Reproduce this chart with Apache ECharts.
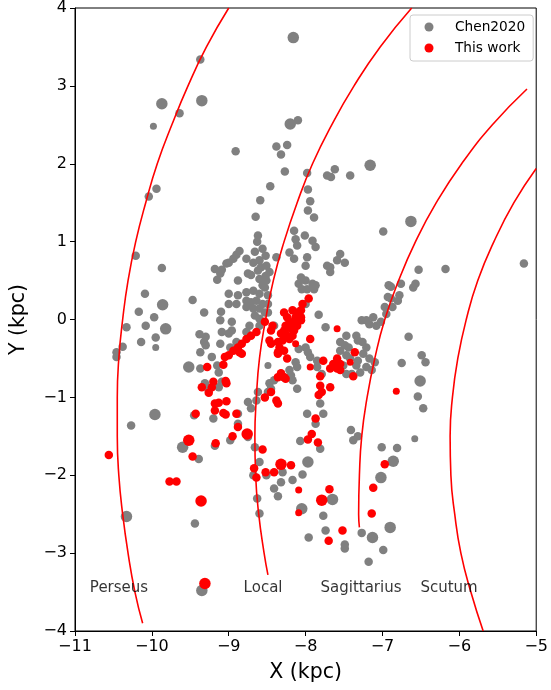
<!DOCTYPE html>
<html>
<head>
<meta charset="utf-8">
<title>Spiral arms near the Sun</title>
<script src="https://cdn.jsdelivr.net/npm/echarts@6/dist/echarts.min.js"></script>
<style>
  html, body { margin: 0; padding: 0; background: #fff; }
  #chart { width: 551px; height: 690px; }
</style>
</head>
<body>
<div id="chart"></div>
<script>
// Galactocentric X, Y in kpc, plus a relative marker-size class (1 small .. 3 large)
const chen2020 = [
  [-9.37,3.34,2],[-9.87,2.77,3],[-9.35,2.81,3],[-9.64,2.65,2],[-9.98,2.48,1],[-9.94,1.68,2],[-10.04,1.58,2],
  [-8.16,3.62,3],[-8.20,2.51,3],[-8.10,2.56,2],[-8.91,2.16,2],[-8.38,2.22,2],[-8.24,2.24,2],[-8.32,2.12,2],
  [-8.27,1.90,2],[-7.98,1.88,2],[-8.46,1.71,2],[-7.72,1.85,2],[-7.67,1.83,2],[-7.62,1.93,2],[-7.42,1.85,2],
  [-7.16,1.98,3],[-8.59,1.53,2],[-7.97,1.67,2],[-7.94,1.52,2],[-7.97,1.40,2],
  [-10.21,0.82,2],[-9.87,0.66,2],[-9.03,0.72,2],[-9.18,0.65,2],[-9.09,0.64,2],[-9.11,0.59,2],[-9.15,0.51,2],
  [-10.09,0.33,2],[-9.86,0.19,3],[-9.47,0.25,2],[-10.17,0.10,2],[-9.97,0.03,2],[-9.00,0.33,2],[-9.00,0.20,2],
  [-9.32,0.09,2],[-9.10,0.10,2],[-9.11,-0.01,2],[-10.33,-0.10,2],[-10.08,-0.08,2],[-9.82,-0.12,3],
  [-9.95,-0.23,2],[-10.14,-0.29,2],[-9.95,-0.36,1],[-10.38,-0.35,2],[-10.46,-0.42,2],[-10.46,-0.48,2],
  [-9.38,-0.19,2],[-9.30,-0.22,2],[-9.32,-0.29,2],[-9.30,-0.33,2],[-9.09,-0.16,2],[-9.11,-0.31,2],
  [-9.00,-0.18,2],[-8.98,-0.36,2],[-9.37,-0.42,2],[-9.22,-0.48,2],[-9.52,-0.61,3],[-9.37,-0.63,2],
  [-9.15,-0.59,2],[-9.13,-0.68,2],[-9.31,-0.82,2],[-9.26,-0.91,2],[-9.13,-0.87,2],[-9.09,-0.80,2],
  [-9.96,-1.22,3],[-9.45,-1.23,2],[-9.20,-1.27,2],
  [-8.65,1.32,2],[-7.89,1.31,2],[-8.15,1.14,2],[-8.62,1.08,2],[-8.63,1.00,2],[-8.01,1.08,2],[-8.13,1.03,2],
  [-8.11,0.95,2],[-7.91,1.01,2],[-7.87,0.93,2],[-8.86,0.88,2],[-8.90,0.83,2],[-8.94,0.78,2],[-8.66,0.87,2],
  [-8.56,0.91,2],[-8.52,0.82,2],[-8.21,0.86,2],[-8.15,0.78,2],[-8.38,0.80,2],[-8.77,0.78,2],[-8.68,0.73,2],
  [-8.60,0.76,2],[-8.58,0.67,2],[-8.62,0.63,2],[-9.00,0.73,2],[-8.51,0.69,2],[-8.47,0.61,2],[-8.52,0.56,2],
  [-8.00,0.69,2],[-7.98,0.80,2],[-7.72,0.69,2],[-7.68,0.67,2],[-8.75,0.59,2],[-8.71,0.57,2],[-8.88,0.50,2],
  [-8.60,0.52,2],[-8.51,0.50,2],[-8.56,0.44,2],[-8.06,0.54,2],[-8.00,0.50,2],[-8.09,0.46,2],[-7.91,0.46,2],
  [-7.87,0.44,2],[-8.05,0.39,2],[-7.98,0.39,2],[-7.89,0.39,2],[-8.88,0.31,2],[-8.90,0.20,2],[-8.77,0.35,2],
  [-8.68,0.37,2],[-8.60,0.33,2],[-8.53,0.41,2],[-8.49,0.31,2],[-8.77,0.24,2],[-8.71,0.22,2],[-8.64,0.24,2],
  [-8.56,0.20,2],[-8.49,0.20,2],[-8.77,0.16,2],[-8.68,0.14,2],[-8.60,0.14,2],[-8.53,0.09,2],[-8.49,0.09,2],
  [-8.66,0.05,2],[-8.60,0.01,2],[-8.00,0.20,2],[-7.83,0.06,2],[-7.74,-0.10,2],[-8.96,-0.03,2],[-8.96,-0.14,2],
  [-8.73,-0.08,2],[-8.77,-0.16,2],[-8.60,-0.08,2],[-8.41,-0.08,2],[-8.90,-0.29,2],
  [-6.99,1.13,2],[-7.55,0.84,2],[-7.49,0.73,2],[-7.59,0.76,2],[-7.68,0.61,2],[-7.47,-0.21,2],[-7.34,-0.21,2],
  [-7.32,-0.27,2],[-7.26,-0.29,2],[-7.21,-0.36,2],[-7.27,-0.01,2],[-7.21,-0.01,2],[-7.17,-0.06,2],
  [-7.12,0.03,2],[-7.08,-0.08,2],[-7.02,-0.03,2],[-6.95,0.07,2],[-6.97,0.16,2],[-6.93,0.29,2],[-6.92,0.44,2],
  [-7.55,-0.29,2],[-7.49,-0.33,2],[-7.44,-0.36,2],[-7.55,-0.40,2],[-7.47,-0.46,2],[-7.42,-0.50,2],
  [-7.25,-0.44,2],[-7.32,-0.53,2],[-7.17,-0.50,2],[-7.10,-0.55,2],[-7.21,-0.61,2],[-7.14,-0.65,2],
  [-7.29,-0.68,2],[-7.94,-0.48,2],[-7.85,-0.53,2],[-8.00,-0.36,2],[-7.97,-0.42,2],[-8.09,-0.38,2],
  [-8.49,-0.59,1],[-8.21,-0.65,2],[-8.13,-0.55,2],[-8.11,-0.61,2],[-7.85,-0.61,2],[-7.79,-0.70,2],
  [-7.51,-0.59,2],[-7.47,-0.70,2],[-7.40,-0.70,2],[-7.34,-0.59,2],[-8.17,-0.78,2],[-8.19,-0.72,2],
  [-8.28,-0.74,2],[-8.32,-0.72,2],[-8.11,-0.89,2],[-8.41,-0.78,2],[-8.47,-0.82,2],[-8.45,-0.89,2],
  [-8.49,-0.93,2],[-8.62,-0.93,2],[-8.64,-1.04,2],[-8.75,-1.06,2],[-8.71,-1.14,2],[-8.88,-1.21,2],
  [-7.81,-1.08,2],[-7.77,-1.21,2],[-7.98,-1.21,2],
  [-6.63,1.26,3],[-5.16,0.72,2],[-6.18,0.65,2],[-6.53,0.64,2],[-6.76,0.46,2],[-6.89,0.42,2],[-6.57,0.46,2],
  [-6.60,0.41,2],[-6.78,0.31,2],[-6.80,0.24,2],[-6.89,0.27,2],[-6.87,0.16,2],[-6.66,-0.22,2],[-6.49,-0.46,2],
  [-6.44,-0.55,2],[-6.75,-0.56,2],[-6.51,-0.79,3],[-6.54,-0.99,2],[-6.47,-1.14,2],
  [-10.27,-1.36,2],[-9.60,-1.64,3],[-9.39,-1.79,2],[-9.18,-1.62,2],[-10.33,-2.53,3],[-9.44,-2.62,2],
  [-9.35,-3.48,3],[-8.98,-1.55,2],
  [-8.88,-1.34,2],[-8.75,-1.51,2],[-8.66,-1.64,2],[-8.60,-1.83,2],[-8.68,-2.00,2],[-8.51,-2.00,2],
  [-8.30,-1.96,2],[-8.32,-2.09,2],[-8.41,-2.17,2],[-8.36,-2.27,2],[-8.17,-2.06,2],[-8.04,-1.99,2],
  [-7.97,-1.83,3],[-8.07,-1.56,2],[-7.81,-1.66,2],[-7.87,-1.34,2],[-8.63,-2.30,2],[-8.60,-2.49,2],
  [-8.05,-2.43,3],[-7.65,-2.31,3],[-7.77,-2.52,2],[-7.74,-2.71,2],[-7.96,-2.80,2],[-7.49,-2.89,2],
  [-7.49,-2.94,2],[-7.41,-1.42,2],[-7.38,-1.55,2],[-7.32,-1.50,2],[-7.27,-2.74,2],[-7.13,-2.80,3],
  [-7.18,-3.11,2],[-7.01,-1.64,2],[-7.02,-2.03,3],[-6.99,-2.96,2],[-6.90,-2.67,3],
  [-6.58,-1.53,1],[-6.81,-1.65,2],[-6.86,-1.82,3]
];

const thisWork = [
  [-9.05,-0.48,2],[-9.00,-0.46,2],[-9.07,-0.58,2],[-9.28,-0.61,2],[-9.35,-0.87,2],[-9.20,-0.80,2],
  [-9.22,-0.87,2],[-9.26,-0.94,2],[-9.04,-0.79,2],[-9.03,-0.82,2],[-9.18,-1.08,2],[-9.13,-1.07,2],
  [-9.03,-1.05,2],[-9.18,-1.17,2],[-9.07,-1.20,2],[-9.04,-1.22,2],[-9.43,-1.21,2],
  [-7.96,0.27,2],[-8.04,0.20,2],[-8.06,0.12,2],[-8.17,0.12,2],[-8.11,0.09,2],[-8.28,0.09,2],[-8.24,0.03,2],
  [-8.13,0.03,2],[-8.06,0.03,2],[-8.21,-0.03,2],[-8.15,-0.03,2],[-8.06,-0.01,2],[-8.11,-0.08,2],
  [-8.26,-0.08,2],[-8.19,-0.12,2],[-8.28,-0.14,2],[-8.15,-0.14,2],[-8.32,-0.18,2],[-8.24,-0.21,2],
  [-8.17,-0.21,2],[-8.30,-0.27,2],[-8.21,-0.25,2],[-8.34,-0.36,2],[-8.28,-0.40,2],[-8.36,-0.42,2],
  [-8.53,-0.03,2],[-8.43,-0.08,2],[-8.45,-0.14,2],[-8.64,-0.16,2],[-8.71,-0.21,2],[-8.77,-0.25,2],
  [-8.83,-0.31,2],[-8.88,-0.36,2],[-8.94,-0.40,2],[-8.47,-0.27,2],[-8.45,-0.31,2],[-8.13,-0.31,1],
  [-7.94,-0.25,2],[-8.86,-0.42,2],
  [-7.59,-0.12,1],[-7.36,-0.42,2],[-7.42,-0.55,1],[-7.59,-0.50,2],[-7.64,-0.57,2],[-7.55,-0.57,2],
  [-7.68,-0.63,2],[-7.59,-0.63,2],[-7.55,-0.65,2],[-7.94,-0.61,1],[-7.77,-0.53,2],[-7.38,-0.73,2],
  [-7.81,-0.73,2],[-8.24,-0.50,2],[-8.36,-0.29,2],[-8.36,-0.44,2],[-8.32,-0.69,2],[-8.36,-0.74,2],
  [-8.28,-0.74,2],[-8.26,-0.76,2],[-7.81,-0.85,2],[-7.79,-0.93,2],[-7.83,-0.97,2],[-7.68,-0.87,2],
  [-8.45,-0.93,2],[-8.53,-1.00,2],[-8.38,-1.04,2],[-8.36,-1.08,2],[-8.90,-1.21,2],[-7.87,-1.27,2],
  [-8.83,-0.44,2],[-6.82,-0.92,1],
  [-10.56,-1.74,2],[-9.52,-1.55,3],[-9.47,-1.76,2],[-9.17,-1.59,2],[-8.95,-1.50,2],[-9.77,-2.08,2],
  [-9.68,-2.08,2],[-9.36,-2.33,3],[-9.31,-3.39,3],
  [-8.88,-1.38,2],[-8.76,-1.47,3],[-8.56,-1.67,2],[-7.92,-1.47,2],[-7.97,-1.54,2],[-7.84,-1.58,2],
  [-8.67,-1.91,2],[-8.64,-2.03,2],[-8.52,-1.96,2],[-8.41,-1.96,2],[-8.32,-1.86,3],[-8.19,-1.87,2],
  [-8.09,-2.19,1],[-8.09,-2.48,1],[-7.79,-2.32,3],[-7.69,-2.18,2],[-7.52,-2.71,2],[-7.70,-2.84,2],
  [-7.14,-2.49,2],[-7.12,-2.16,2],[-6.97,-1.86,2]
];

// Spiral-arm traces, sampled every 0.5 kpc in Y along each arm (X, Y in kpc)
const perseusArm = [
  [-9.00,4.00],[-9.29,3.50],[-9.53,3.00],[-9.74,2.50],[-9.93,2.00],[-10.08,1.50],[-10.21,1.00],
  [-10.31,0.50],[-10.38,0.00],[-10.43,-0.50],[-10.45,-1.00],[-10.45,-1.50],[-10.43,-2.00],
  [-10.38,-2.50],[-10.31,-3.00],[-10.22,-3.50],[-10.12,-3.90]
];
const localArm = [
  [-6.62,4.00],[-7.03,3.50],[-7.37,3.00],[-7.66,2.50],[-7.91,2.00],[-8.11,1.50],[-8.28,1.00],
  [-8.42,0.50],[-8.52,0.00],[-8.60,-0.50],[-8.64,-1.00],[-8.66,-1.50],[-8.65,-2.00],[-8.61,-2.50],
  [-8.54,-3.00],[-8.49,-3.28]
];
const sagittariusArm = [
  [-5.12,2.96],[-5.57,2.50],[-5.97,2.00],[-6.30,1.50],[-6.57,1.00],[-6.79,0.50],[-6.97,0.00],
  [-7.10,-0.50],[-7.20,-1.00],[-7.27,-1.50],[-7.30,-2.00],[-7.31,-2.50],[-7.30,-2.67]
];
const scutumArm = [
  [-5.00,1.94],[-5.29,1.50],[-5.55,1.00],[-5.76,0.50],[-5.91,0.00],[-6.02,-0.50],[-6.09,-1.00],
  [-6.12,-1.50],[-6.11,-2.00],[-6.06,-2.50],[-5.98,-3.00],[-5.85,-3.50],[-5.69,-4.00]
];

const armNames = ['Perseus', 'Local', 'Sagittarius', 'Scutum'];
const armLabelX = [-10.8, -8.8, -7.8, -6.5];
const armLabelY = -3.5;

const xTicks = [-11, -10, -9, -8, -7, -6, -5];
const yTicks = [-4, -3, -2, -1, 0, 1, 2, 3, 4];

const FONT = 'DejaVu Sans';
const markerSize = { 1: 7, 2: 8.5, 3: 11.5 };
const minusSign = v => String(v).replace('-', '\u2212');

const armSeries = (name, pts) => ({
  name: name,
  type: 'line',
  data: pts,
  showSymbol: false,
  symbol: 'none',
  smooth: true,
  silent: true,
  z: 3,
  lineStyle: { color: '#ff0000', width: 1.6 }
});

const chart = echarts.init(document.getElementById('chart'), null, { renderer: 'canvas' });

chart.setOption({
  animation: false,
  backgroundColor: '#ffffff',
  textStyle: { fontFamily: FONT },
  grid: {
    left: 71, right: 12, top: 7, bottom: 59,
    show: true, borderColor: '#000', borderWidth: 1, backgroundColor: 'transparent'
  },
  legend: {
    data: ['Chen2020', 'This work'],
    orient: 'vertical',
    left: 410, top: 15,
    padding: [5, 8, 6, 14.5],
    itemGap: 7,
    itemWidth: 9, itemHeight: 9,
    icon: 'circle',
    backgroundColor: 'rgba(255,255,255,0.8)',
    borderColor: '#cccccc', borderWidth: 1, borderRadius: 3,
    selectedMode: false,
    textStyle: { fontFamily: FONT, fontSize: 13.7, color: '#000', padding: [0, 0, 0, 16.5] }
  },
  xAxis: {
    type: 'value',
    min: xTicks[0], max: xTicks[xTicks.length - 1], interval: 1,
    name: 'X (kpc)', nameLocation: 'middle', nameGap: 31,
    nameTextStyle: { fontFamily: FONT, fontSize: 20.5, color: '#000' },
    axisLine: { show: true, onZero: false, lineStyle: { color: '#000', width: 1 } },
    axisTick: { show: true, inside: false, length: 5, lineStyle: { color: '#000' } },
    axisLabel: { color: '#000', fontFamily: FONT, fontSize: 16, margin: 8, formatter: minusSign },
    splitLine: { show: false }
  },
  yAxis: {
    type: 'value',
    min: yTicks[0], max: yTicks[yTicks.length - 1], interval: 1,
    name: 'Y (kpc)', nameLocation: 'middle', nameGap: 46, nameRotate: 90,
    nameTextStyle: { fontFamily: FONT, fontSize: 20.5, color: '#000' },
    axisLine: { show: true, onZero: false, lineStyle: { color: '#000', width: 1 } },
    axisTick: { show: true, inside: false, length: 5, lineStyle: { color: '#000' } },
    axisLabel: { color: '#000', fontFamily: FONT, fontSize: 16, margin: 8, formatter: minusSign },
    splitLine: { show: false }
  },
  series: [
    {
      name: 'Chen2020',
      type: 'scatter',
      data: chen2020,
      symbolSize: v => markerSize[v[2]],
      itemStyle: { color: '#808080', opacity: 1 },
      z: 2
    },
    armSeries('Perseus arm', perseusArm),
    armSeries('Local arm', localArm),
    armSeries('Sagittarius arm', sagittariusArm),
    armSeries('Scutum arm', scutumArm),
    {
      name: 'This work',
      type: 'scatter',
      data: thisWork,
      symbolSize: v => markerSize[v[2]],
      itemStyle: { color: '#ff0000', opacity: 1 },
      z: 4
    },
    {
      name: 'arm names',
      type: 'scatter',
      silent: true,
      symbolSize: 1,
      itemStyle: { color: 'transparent' },
      z: 5,
      data: armNames.map((n, i) => ({ value: [armLabelX[i], armLabelY], name: n })),
      label: {
        show: true,
        position: [0, 0],
        align: 'left',
        verticalAlign: 'middle',
        offset: [0, -3],
        formatter: p => p.name,
        fontFamily: FONT, fontSize: 15, color: '#000'
      }
    }
  ]
});
</script>
</body>
</html>
